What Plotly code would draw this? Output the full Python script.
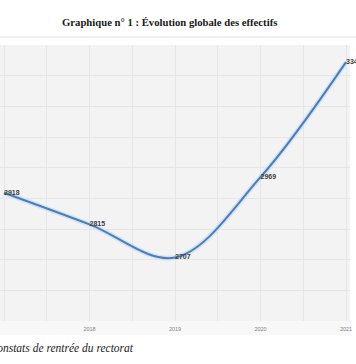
import plotly.graph_objects as go

years = [2017, 2018, 2019, 2020, 2021]
effectifs = [2918, 2815, 2707, 2969, 3344]
labels = ["<b>" + str(v) + "</b>" for v in effectifs]
tick_years = [2017, 2018, 2019, 2020, 2021]
title_text = "Graphique n° 1 : Évolution globale des effectifs"
source_text = "Source : constats de rentrée du rectorat"

W, H = 356, 364
L, R, T, B = 0, 6, 45, 43
plot_w = W - L - R
plot_h = H - T - B


def py(y_px):
    """pixel row -> paper y"""
    return (H - B - y_px) / plot_h


def px(x_px):
    return (x_px - L) / plot_w


fig = go.Figure()
fig.add_trace(go.Scatter(
    x=years, y=effectifs, mode="lines",
    line=dict(color="#d3e3f5", width=5, shape="spline", smoothing=1.0),
    hoverinfo="skip", showlegend=False,
))
fig.add_trace(go.Scatter(
    x=years, y=effectifs, mode="lines+text",
    text=labels, textposition="middle right",
    textfont=dict(family="Liberation Sans", size=7, color="#404040"),
    line=dict(color="#4a7ebb", width=2, shape="spline", smoothing=1.0),
    cliponaxis=False, showlegend=False,
))

fig.update_layout(
    width=W, height=H,
    margin=dict(l=L, r=R, t=T, b=B, pad=0),
    paper_bgcolor="white",
    plot_bgcolor="#f3f3f3",
    showlegend=False,
    xaxis=dict(
        range=[2017 - 4 / 85.5, 2021 + 4 / 85.5],
        tickvals=tick_years, ticktext=[str(y) for y in tick_years],
        tickfont=dict(family="Liberation Sans", size=5.5, color="#808080"),
        showgrid=True, gridcolor="#e6e6e6", gridwidth=1,
        minor=dict(dtick=0.5, tick0=2017, showgrid=True, gridcolor="#e6e6e6"),
        zeroline=False, showline=False, ticks="", ticklabelstandoff=3,
        fixedrange=True,
    ),
    yaxis=dict(
        range=[2500, 3400], dtick=100, showticklabels=False,
        showgrid=True, gridcolor="#e6e6e6", gridwidth=1,
        zeroline=False, showline=False, ticks="", fixedrange=True,
    ),
    shapes=[
        dict(type="line", xref="paper", yref="paper",
             x0=-0.1, x1=1.1, y0=py(37), y1=py(37),
             line=dict(color="#e2e2e2", width=1)),
        dict(type="rect", xref="paper", yref="paper", layer="below",
             x0=-0.1, x1=px(351), y0=py(335), y1=py(321),
             fillcolor="#f8f8f8", line=dict(width=0)),
    ],
    annotations=[
        dict(text="<b>" + title_text + "</b>", xref="paper", yref="paper",
             x=px(169), y=py(22), xanchor="center", yanchor="middle",
             showarrow=False,
             font=dict(family="Liberation Serif", size=10.7, color="#1a1a1a")),
        dict(text="<i>" + source_text + "</i>", xref="paper", yref="paper",
             x=px(136), y=py(348), xanchor="right", yanchor="middle",
             showarrow=False,
             font=dict(family="Liberation Serif", size=11.5, color="#1a1a1a")),
    ],
)

fig.write_html(
    "out.html",
    config={"displayModeBar": False},
    post_script="document.body.style.margin='0';document.body.style.padding='0';",
)
